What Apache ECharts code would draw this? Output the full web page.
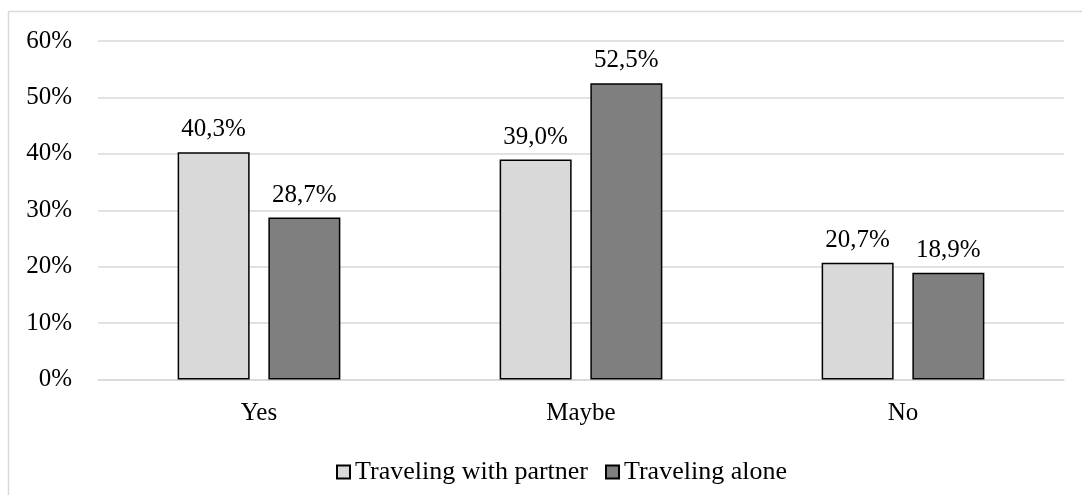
<!DOCTYPE html>
<html>
<head>
<meta charset="utf-8">
<script src="https://cdn.jsdelivr.net/npm/echarts@6/dist/echarts.min.js"></script>
<style>
html,body{margin:0;padding:0;background:#fff;}
#chart{width:1082px;height:495px;}
</style>
</head>
<body>
<div id="chart"></div>
<script>
var categories = ['Yes', 'Maybe', 'No'];
var seriesNames = ['Traveling with partner', 'Traveling alone'];
var withPartner = [40.3, 39.0, 20.7];
var alone = [28.7, 52.5, 18.9];
var yTicks = [0, 10, 20, 30, 40, 50, 60];

var FONT = '"Liberation Serif", "Times New Roman", serif';
var fmt = function (v) { return v.toFixed(1).replace('.', ',') + '%'; };

var chart = echarts.init(document.getElementById('chart'), null, {renderer: 'canvas'});
var labelStyle = {
  show: true, position: 'top', distance: 10,
  fontFamily: FONT, fontSize: 25, color: '#000',
  formatter: function (p) { return fmt(p.value); }
};
chart.setOption({
  animation: false,
  backgroundColor: '#fff',
  textStyle: {fontFamily: FONT},
  graphic: [{
    type: 'rect', z: -10,
    shape: {x: 8.5, y: 11.5, width: 1200, height: 600},
    style: {fill: 'none', stroke: '#d9d9d9', lineWidth: 1.5}
  }],
  legend: {
    data: seriesNames,
    left: 331, top: 454,
    icon: 'rect', itemWidth: 13, itemHeight: 13, itemGap: 17,
    textStyle: {fontFamily: FONT, fontSize: 26, color: '#000'}
  },
  grid: {left: 98, right: 18, top: 41, bottom: 115.5, containLabel: false},
  xAxis: {
    type: 'category', data: categories,
    axisLine: {show: true, lineStyle: {color: '#d9d9d9', width: 1.5}},
    axisTick: {show: false},
    axisLabel: {fontFamily: FONT, fontSize: 25, color: '#000', margin: 21}
  },
  yAxis: {
    type: 'value', min: yTicks[0], max: yTicks[yTicks.length - 1], interval: 10,
    axisLine: {show: false}, axisTick: {show: false},
    splitLine: {lineStyle: {color: '#d9d9d9', width: 1.5}},
    axisLabel: {fontFamily: FONT, fontSize: 25, color: '#000', margin: 26, formatter: '{value}%'}
  },
  series: [{
    name: seriesNames[0], type: 'bar', data: withPartner,
    barWidth: 72, barGap: '26%',
    itemStyle: {color: '#d9d9d9', borderColor: '#000', borderWidth: 1.5},
    label: labelStyle
  }, {
    name: seriesNames[1], type: 'bar', data: alone,
    barWidth: 72,
    itemStyle: {color: '#7f7f7f', borderColor: '#000', borderWidth: 1.5},
    label: labelStyle
  }]
});
</script>
</body>
</html>
